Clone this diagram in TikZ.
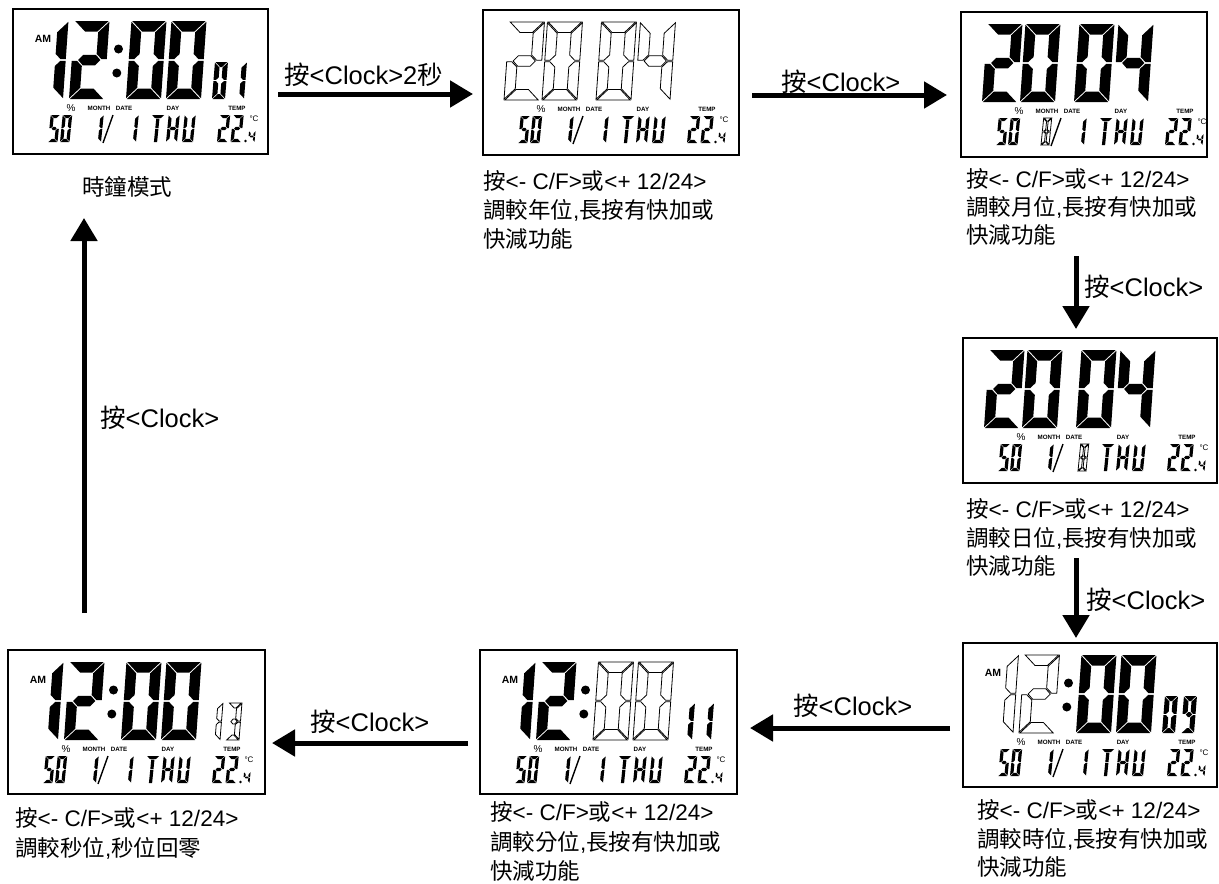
\documentclass[tikz,border=0pt]{standalone}
\usepackage{fontspec}
\setmainfont{Liberation Sans}
\newfontfamily\cjk{Noto Sans CJK TC}
\usetikzlibrary{arrows.meta}
\newcommand\zh[1]{{\cjk #1}}

% ---------- seven-segment machinery ----------
\def\sga{\path[cur] (\dG,\dH) -- ({\dW-\dG},\dH) -- ({\dW-\dT-\dG},{\dH-\dT}) -- ({\dT+\dG},{\dH-\dT}) -- cycle;}
\def\sgd{\path[cur] (\dG,0) -- ({\dW-\dG},0) -- ({\dW-\dT-\dG},\dT) -- ({\dT+\dG},\dT) -- cycle;}
\def\sgf{\path[cur] (0,{\dH-\dG}) -- (\dT,{\dH-\dT-\dG}) -- (\dT,{\dH/2+\dT/2+\dG}) -- ({\dT/2},{\dH/2+\dG}) -- (0,{\dH/2+\dG}) -- cycle;}
\def\sge{\path[cur] (0,\dG) -- (\dT,{\dT+\dG}) -- (\dT,{\dH/2-\dT/2-\dG}) -- ({\dT/2},{\dH/2-\dG}) -- (0,{\dH/2-\dG}) -- cycle;}
\def\sgb{\path[cur] (\dW,{\dH-\dG}) -- ({\dW-\dT},{\dH-\dT-\dG}) -- ({\dW-\dT},{\dH/2+\dT/2+\dG}) -- ({\dW-\dT/2},{\dH/2+\dG}) -- (\dW,{\dH/2+\dG}) -- cycle;}
\def\sgc{\path[cur] (\dW,\dG) -- ({\dW-\dT},{\dT+\dG}) -- ({\dW-\dT},{\dH/2-\dT/2-\dG}) -- ({\dW-\dT/2},{\dH/2-\dG}) -- (\dW,{\dH/2-\dG}) -- cycle;}
\def\sgg{\path[cur] ({\dT/2+1.4*\dG},{\dH/2}) -- ({\dT+\dG},{\dH/2+\dT/2}) -- ({\dW-\dT-\dG},{\dH/2+\dT/2}) -- ({\dW-\dT/2-1.4*\dG},{\dH/2}) -- ({\dW-\dT-\dG},{\dH/2-\dT/2}) -- ({\dT+\dG},{\dH/2-\dT/2}) -- cycle;}
\def\sgt{\path[cur] ({\dW/2-\dT/2},{\dH-\dT-\dG}) -- ({\dW/2+\dT/2},{\dH-\dT-\dG}) -- ({\dW/2+\dT/2},{\dH/2+\dG}) -- ({\dW/2-\dT/2},{\dH/2+\dG}) -- cycle;}
\def\sgu{\path[cur] ({\dW/2-\dT/2},{\dH/2-\dG}) -- ({\dW/2+\dT/2},{\dH/2-\dG}) -- ({\dW/2+\dT/2},0) -- ({\dW/2-\dT/2},0) -- cycle;}

\def\defdg#1#2{\expandafter\def\csname dg#1\endcsname{#2}}
\defdg{0}{a,b,c,d,e,f}
\defdg{1}{b,c}
\defdg{2}{a,b,g,e,d}
\defdg{3}{a,b,g,c,d}
\defdg{4}{f,g,b,c}
\defdg{5}{a,f,g,c,d}
\defdg{8}{a,b,c,d,e,f,g}
\defdg{9}{a,b,c,d,f,g}
\defdg{T}{a,t,u}
\defdg{H}{b,c,e,f,g}
\defdg{U}{b,c,d,e,f}

% #1 x0, #2 ybottom, #3 W, #4 H, #5 T, #6 gap, #7 char, #8 style, #9 slant
\newcommand\lcd[9]{%
  \begin{scope}[shift={(#1,#2)},x=1pt,y=1pt,xslant=#9,cur/.style={#8}]
    \def\dW{#3}\def\dH{#4}\def\dT{#5}\def\dG{#6}%
    \edef\seglist{\csname dg#7\endcsname}%
    \foreach \s in \seglist {\csname sg\s\endcsname}%
  \end{scope}}
\newcommand\dBig[3]{\lcd{#1}{90}{35}{78}{10.5}{0.8}{#2}{#3}{0.07}}
\newcommand\dSmall[3]{\lcd{#1}{90}{13}{37}{5}{0.6}{#2}{#3}{0.08}}
\newcommand\dLow[4]{\lcd{#1}{133}{#2}{27}{3.2}{0.45}{#3}{#4}{0.1}}
\newcommand\dTiny[3]{\lcd{#1}{133}{6.5}{11}{1.8}{0.35}{#2}{#3}{0.1}}

% clock: #1 hour style, #2 minute style, #3 #4 seconds digits, #5 seconds style
\newcommand\clockdigits[5]{%
  \dBig{15}{1}{#1}\dBig{56}{2}{#1}%
  \fill (105.5,40) circle (4.5); \fill (103.8,64) circle (4.5);
  \dBig{113}{0}{#2}\dBig{153}{0}{#2}%
  \dSmall{199}{#3}{#5}\dSmall{218}{#4}{#5}}
\newcommand\yeardigits[1]{%
  \dBig{21}{2}{#1}\dBig{59}{0}{#1}\dBig{113}{0}{#1}\dBig{152}{4}{#1}}
% low row: #1 month char, #2 its style, #3 date char, #4 its style
\newcommand\lowrow[4]{%
  \dLow{35}{9.5}{5}{segon}\dLow{47}{9.5}{0}{segon}%
  \dLow{80}{8}{#1}{#2}%
  \draw[line width=1.4pt] (90,134) -- (100,106);
  \dLow{115}{8}{#3}{#4}%
  \dLow{136}{13}{T}{segon}\dLow{153}{11}{H}{segon}\dLow{169}{11}{U}{segon}%
  \dLow{204}{10.5}{2}{segon}\dLow{217.5}{10.5}{2}{segon}%
  \fill (232.5,132) circle (1.3);
  \dTiny{235}{4}{segon}}
\newcommand\lcdlabels[1]{%
  \node[lbl,font=\fontsize{10}{10}\selectfont] (#1pct) at (58,99) {\%};
  \node[tinylbl] (#1mon) at (86,99) {MONTH};
  \node[tinylbl] (#1dat) at (111,99) {DATE};
  \node[tinylbl] (#1day) at (160,99) {DAY};
  \node[tinylbl] (#1tmp) at (224,99) {TEMP};
  \node[lbl,font=\fontsize{8}{8}\selectfont] (#1deg) at (241,110) {°C};}
\newcommand\amlabel[1]{\node[amlbl] (#1am) at (30,30) {AM};}

\tikzset{
  lbl/.style={inner sep=0pt, outer sep=0pt},
  tinylbl/.style={inner sep=0pt, outer sep=0pt, font=\fontsize{6.2}{6.2}\selectfont\bfseries},
  amlbl/.style={inner sep=0pt, outer sep=0pt, font=\fontsize{10.5}{10.5}\selectfont\bfseries},
  captxt/.style={anchor=base west, inner sep=0pt, font=\fontsize{22.5}{27}\selectfont},
  alab/.style={anchor=base west, inner sep=0pt, font=\fontsize{25.5}{30}\selectfont},
  lcdbox/.style={draw, line width=2pt, anchor=north west, inner sep=0pt, outer sep=0pt},
  arr/.style={line width=5pt, -{Triangle[length=23pt,width=26pt]}},
  segon/.style={fill=black, draw=none},
  segoff/.style={fill=white, draw=black, line width=0.8pt},
}

\begin{document}
\begin{tikzpicture}[x=1pt,y=-1pt]
\useasboundingbox (0,0) rectangle (1219,884);
\fill[white] (0,0) rectangle (1219,884);

% ---------- LCD boxes ----------
\node[lcdbox, minimum width=255pt, minimum height=145pt] (b1) at (13,9) {};
\node[lcdbox, minimum width=256pt, minimum height=145pt] (b2) at (483,10) {};
\node[lcdbox, minimum width=246pt, minimum height=145pt] (b3) at (961,12) {};
\node[lcdbox, minimum width=254pt, minimum height=145pt] (b4) at (963,338) {};
\node[lcdbox, minimum width=254pt, minimum height=144pt] (b5) at (963,643) {};
\node[lcdbox, minimum width=257pt, minimum height=144pt] (b6) at (480,650) {};
\node[lcdbox, minimum width=257pt, minimum height=144pt] (b7) at (8,650) {};

\begin{scope}[shift={(13,9)}]
  \amlabel{p1}\clockdigits{segon}{segon}{0}{1}{segon}\lowrow{1}{segon}{1}{segon}\lcdlabels{p1}
\end{scope}
\begin{scope}[shift={(483,10)}]
  \yeardigits{segoff}\lowrow{1}{segon}{1}{segon}\lcdlabels{p2}
\end{scope}
\begin{scope}[shift={(961,12)}]
  \yeardigits{segon}\lowrow{8}{segoff}{1}{segon}\lcdlabels{p3}
\end{scope}
\begin{scope}[shift={(963,338)}]
  \yeardigits{segon}\lowrow{1}{segon}{8}{segoff}\lcdlabels{p4}
\end{scope}
\begin{scope}[shift={(963,643)}]
  \amlabel{p5}\clockdigits{segoff}{segon}{0}{9}{segon}\lowrow{1}{segon}{1}{segon}\lcdlabels{p5}
\end{scope}
\begin{scope}[shift={(480,650)}]
  \amlabel{p6}\clockdigits{segon}{segoff}{1}{1}{segon}\lowrow{1}{segon}{1}{segon}\lcdlabels{p6}
\end{scope}
\begin{scope}[shift={(8,650)}]
  \amlabel{p7}\clockdigits{segon}{segon}{1}{3}{segoff}\lowrow{1}{segon}{1}{segon}\lcdlabels{p7}
\end{scope}

% ---------- captions ----------
\node[captxt] (c1) at (82,195) {\zh{時鐘模式}};
\node[captxt] (c2a) at (483,189) {\zh{按}<- C/F>\zh{或}<+ 12/24>};
\node[captxt] (c2b) at (483,218) {\zh{調較年位},\zh{長按有快加或}};
\node[captxt] (c2c) at (483,247) {\zh{快減功能}};
\node[captxt] (c3a) at (966,187) {\zh{按}<- C/F>\zh{或}<+ 12/24>};
\node[captxt] (c3b) at (966,215) {\zh{調較月位},\zh{長按有快加或}};
\node[captxt] (c3c) at (966,243) {\zh{快減功能}};
\node[captxt] (c4a) at (966,517) {\zh{按}<- C/F>\zh{或}<+ 12/24>};
\node[captxt] (c4b) at (966,546) {\zh{調較日位},\zh{長按有快加或}};
\node[captxt] (c4c) at (966,574) {\zh{快減功能}};
\node[captxt] (c5a) at (977,818) {\zh{按}<- C/F>\zh{或}<+ 12/24>};
\node[captxt] (c5b) at (977,847) {\zh{調較時位},\zh{長按有快加或}};
\node[captxt] (c5c) at (977,875) {\zh{快減功能}};
\node[captxt] (c6a) at (490,820) {\zh{按}<- C/F>\zh{或}<+ 12/24>};
\node[captxt] (c6b) at (490,850) {\zh{調較分位},\zh{長按有快加或}};
\node[captxt] (c6c) at (490,879) {\zh{快減功能}};
\node[captxt] (c7a) at (15,826) {\zh{按}<- C/F>\zh{或}<+ 12/24>};
\node[captxt] (c7b) at (15,856) {\zh{調較秒位},\zh{秒位回零}};

% ---------- arrows ----------
\coordinate (a1s) at (278,94);   \coordinate (a1e) at (473,94);
\coordinate (a2s) at (752,95);   \coordinate (a2e) at (947,95);
\coordinate (a3s) at (1076,256); \coordinate (a3e) at (1076,329);
\coordinate (a4s) at (1076,558); \coordinate (a4e) at (1076,638);
\coordinate (a5s) at (950,728);  \coordinate (a5e) at (750,728);
\coordinate (a6s) at (468,743);  \coordinate (a6e) at (272,743);
\coordinate (a7s) at (84,613);   \coordinate (a7e) at (84,218);
\draw[arr] (a1s) -- (a1e);
\draw[arr] (a2s) -- (a2e);
\draw[arr] (a3s) -- (a3e);
\draw[arr] (a4s) -- (a4e);
\draw[arr] (a5s) -- (a5e);
\draw[arr] (a6s) -- (a6e);
\draw[arr] (a7s) -- (a7e);

\node[alab] (l1) at (284,84) {\zh{按}<Clock>2\zh{秒}};
\node[alab] (l2) at (781,91) {\zh{按}<Clock>};
\node[alab] (l3) at (1084,296) {\zh{按}<Clock>};
\node[alab] (l4) at (1086,609) {\zh{按}<Clock>};
\node[alab] (l5) at (793,715) {\zh{按}<Clock>};
\node[alab] (l6) at (310,731) {\zh{按}<Clock>};
\node[alab] (l7) at (100,427) {\zh{按}<Clock>};
\end{tikzpicture}
\end{document}
